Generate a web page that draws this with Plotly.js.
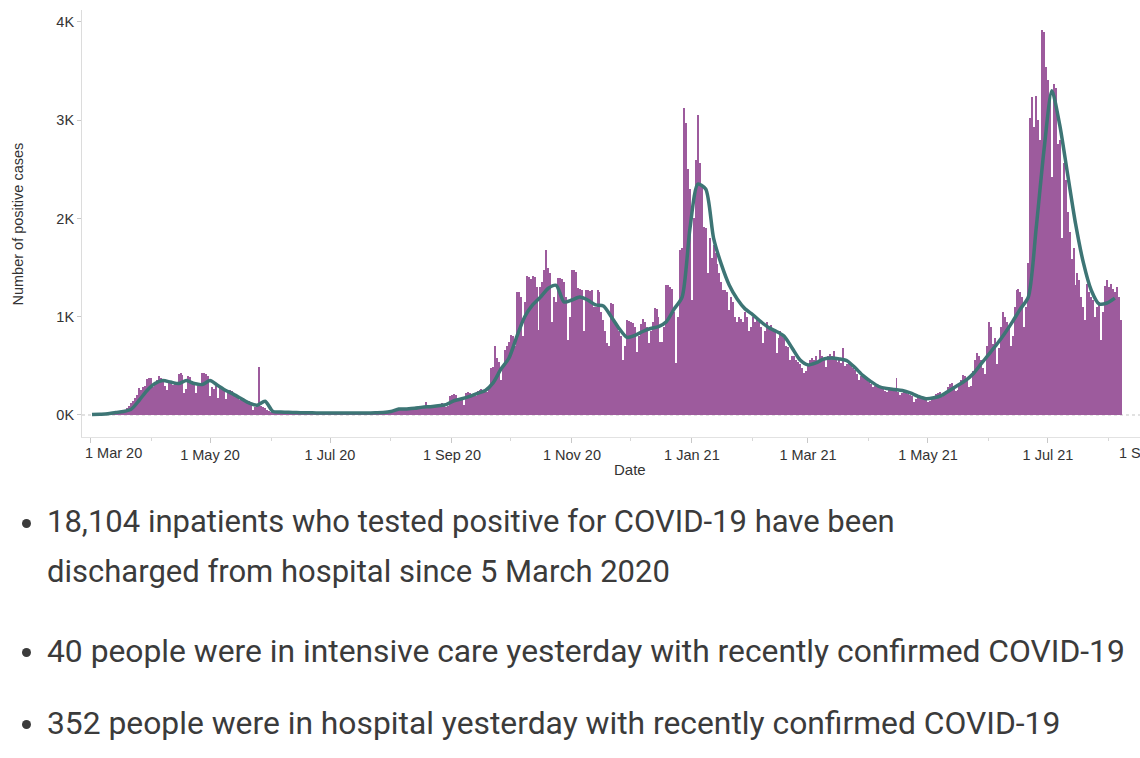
<!DOCTYPE html>
<html>
<head>
<meta charset="utf-8">
<script src="https://cdn.plot.ly/plotly-3.0.1.min.js"></script>
<style>
  html, body { margin: 0; padding: 0; background: #ffffff; }
  body { width: 1140px; height: 758px; position: relative; overflow: hidden; }
  #chart { position: absolute; left: 0; top: 0; width: 1140px; height: 485px; }
  .item { position: absolute; left: 47px; font-family: Roboto, "Noto Sans", sans-serif; font-size: 31.8px; line-height: 50px; color: #3b3b3b; white-space: nowrap; }
  .dot { position: absolute; left: 22px; width: 9px; height: 9px; border-radius: 50%; background: #3b3b3b; }
</style>
</head>
<body>
<div id="chart"></div>
<span class="dot" style="top:519px"></span>
<div class="item" style="top:497px; font-size:31px">18,104 inpatients who tested positive for COVID-19 have been<br>discharged from hospital since 5 March 2020</div>
<span class="dot" style="top:648px"></span>
<div class="item" style="top:626px">40 people were in intensive care yesterday with recently confirmed COVID-19</div>
<span class="dot" style="top:720px"></span>
<div class="item" style="top:698px">352 people were in hospital yesterday with recently confirmed COVID-19</div>
<script>
// ---- data ----
const startDate = '2020-03-02';           // first daily bar (Monday)
const dailyCases = [
  0,1,2,3,4,5,6,
  8,10,12,14,18,20,22,
  30,35,40,55,70,90,120,
  140,170,200,270,250,280,300,
  370,375,380,290,340,360,400,
  380,370,300,250,340,330,310,
  320,340,420,430,410,220,260,
  400,390,350,330,220,300,320,
  430,430,420,400,190,280,260,
  300,170,290,280,260,160,230,
  250,240,210,200,190,150,170,
  160,140,130,140,120,50,80,
  110,490,90,80,70,50,40,
  35,30,28,28,26,24,25,
  26,25,24,25,24,22,23,
  24,23,22,23,22,20,21,
  22,21,20,21,20,18,20,
  20,19,19,20,18,17,18,
  18,19,18,19,17,16,18,
  19,20,19,20,18,17,18,
  20,22,21,23,20,18,20,
  24,25,27,30,35,45,50,
  55,60,70,65,60,55,50,
  60,70,65,80,75,60,70,
  80,90,135,85,80,70,75,
  90,100,110,120,100,85,90,
  190,200,210,200,170,165,160,
  100,220,230,220,210,200,190,
  240,250,260,255,250,230,300,
  480,490,700,580,540,355,480,
  660,700,745,815,800,700,1250,
  1255,1200,800,1150,1410,1400,1380,
  1410,1400,1300,865,1300,1350,1480,
  1680,1500,1450,950,1200,1150,1390,
  1390,1380,1350,1200,760,1000,1475,
  1475,1460,1290,1280,1270,850,1270,
  1270,1260,1270,1100,1100,1270,1250,
  1050,970,850,730,700,1135,1130,
  930,900,850,800,560,700,970,
  960,950,940,900,645,800,930,
  980,950,900,730,850,950,1085,
  1080,1000,745,745,900,1320,1320,
  1300,1280,1050,525,1000,1680,1700,
  3120,2970,2500,2300,1170,2000,2600,
  3050,2565,2340,1915,1900,1445,1800,
  1600,1730,1650,1540,1450,1350,1270,
  1270,1250,1065,1200,1150,1000,950,
  1000,980,950,1050,1000,850,900,
  1000,950,980,950,900,735,850,
  950,900,920,880,850,630,780,
  850,820,780,700,690,560,600,
  600,560,540,520,480,425,450,
  520,560,580,560,600,540,660,
  600,580,490,600,620,600,650,
  560,540,560,530,680,500,520,
  540,520,480,460,420,360,400,
  400,380,360,340,320,280,300,
  300,290,280,260,240,230,250,
  260,250,240,375,230,200,220,
  230,220,210,200,190,130,160,
  190,180,170,160,150,130,140,
  160,190,210,220,230,180,200,
  240,280,320,330,300,240,250,
  330,360,410,400,380,280,300,
  450,560,630,600,560,480,420,
  700,950,900,720,780,520,680,
  900,1050,1000,950,900,700,800,
  1100,1270,1280,1250,1200,900,1100,
  1545,3020,3240,2935,3250,3000,2800,
  3920,3900,3540,3410,3200,2425,3370,
  3330,2760,2800,1800,2560,2390,2070,
  1860,1590,1700,1320,1450,1370,1200,
  1100,970,1330,1250,1200,1170,1000,
  1100,1150,760,1050,1310,1370,1300,
  1330,1280,1250,1300,1200,970
];
const provisionalDates = ['2021-08-08'];   // incomplete last day (grey)
const provisionalCases = [70];

const lineStart = '2020-03-02';            // average line, one point every 4 days
const lineStepDays = 4;
const avgCases = [
  5,8,12,25,35,60,150,250,320,350,
  335,320,350,320,310,350,300,250,210,165,
  120,100,140,35,30,27,25,23,22,21,
  20,19,19,19,20,20,22,25,35,60,
  62,68,80,85,95,105,145,165,190,220,
  250,330,470,580,800,1000,1120,1200,1290,1320,
  1150,1170,1200,1170,1120,1110,1000,880,790,810,
  850,880,900,950,1080,1200,1900,2350,2300,1800,
  1530,1320,1180,1080,1020,950,890,850,800,680,
  560,510,530,570,580,570,550,480,400,340,
  290,270,260,250,225,190,165,175,200,250,
  300,350,420,520,620,720,830,950,1080,1200,
  1900,2700,3300,2950,2450,1950,1550,1270,1130,1140,
  1190
];

const yTickVals = [0, 1000, 2000, 3000, 4000];
const yTickText = ['0K', '1K', '2K', '3K', '4K'];
const xTickVals = ['2020-03-01', '2020-05-01', '2020-07-01', '2020-09-01', '2020-11-01',
                   '2021-01-01', '2021-03-01', '2021-05-01', '2021-07-01'];
const xTickText = ['', '1 May 20', '1 Jul 20', '1 Sep 20', '1 Nov 20',
                   '1 Jan 21', '1 Mar 21', '1 May 21', '1 Jul 21'];
const firstTickLabel = '1 Mar 20';   // drawn shifted right, as in the reference
const lastTickLabel = '1 S';         // clipped label at the right edge

// ---- build ----
function addDays(iso, n) {
  const d = new Date(iso + 'T00:00:00Z');
  d.setUTCDate(d.getUTCDate() + n);
  return d.toISOString().slice(0, 10);
}
const barDates = dailyCases.map((_, i) => addDays(startDate, i));
const lineDates = avgCases.map((_, i) => addDays(lineStart, i * lineStepDays));

const tickFont = { family: '"Liberation Sans", Arial, sans-serif', size: 14.5, color: '#333333' };

const traces = [
  { type: 'bar', x: barDates, y: dailyCases, marker: { color: '#9d5b9d', line: { width: 0 } }, hoverinfo: 'skip' },
  { type: 'bar', x: provisionalDates, y: provisionalCases, marker: { color: '#b4b0b4', line: { width: 0 } }, hoverinfo: 'skip' },
  { type: 'scatter', mode: 'lines', x: lineDates, y: avgCases,
    line: { color: '#3d7575', width: 3.5, shape: 'spline', smoothing: 0.7 }, hoverinfo: 'skip' }
];

const layout = {
  width: 1140, height: 485,
  margin: { l: 82, r: 0, t: 10, b: 48 },
  paper_bgcolor: '#ffffff', plot_bgcolor: '#ffffff',
  showlegend: false, bargap: 0, barmode: 'overlay',
  font: tickFont,
  xaxis: {
    type: 'date',
    range: ['2020-02-25 22:00', '2021-08-16 19:00'],
    tickmode: 'array', tickvals: xTickVals, ticktext: xTickText,
    ticks: 'outside', ticklen: 5, tickcolor: '#c8c8c8', tickwidth: 1,
    minor: { dtick: 'M1', tick0: '2020-03-01', ticks: 'outside', ticklen: 3, tickcolor: '#d8d8d8' },
    showgrid: false, zeroline: false,
    showline: true, linecolor: '#e2e2e2', linewidth: 1,
    tickfont: tickFont, fixedrange: true
  },
  yaxis: {
    range: [-224, 4122],
    tickmode: 'array', tickvals: yTickVals, ticktext: yTickText,
    ticks: 'outside', ticklen: 4, tickcolor: '#c8c8c8',
    showgrid: false, zeroline: false,
    showline: true, linecolor: '#dcdcdc', linewidth: 1,
    tickfont: tickFont, fixedrange: true
  },
  shapes: [
    { type: 'line', xref: 'paper', x0: 0, x1: 1, yref: 'y', y0: 0, y1: 0,
      line: { color: '#c4c4c4', width: 1, dash: 'dot' }, layer: 'below' }
  ],
  annotations: [
    { text: 'Date', xref: 'paper', yref: 'paper', x: 0.518, y: -0.075, xanchor: 'center', yanchor: 'middle',
      showarrow: false, font: { family: '"Liberation Sans", Arial, sans-serif', size: 15, color: '#333333' } },
    { text: 'Number of positive cases', xref: 'paper', yref: 'paper', x: -0.0605, y: 0.5, textangle: -90,
      xanchor: 'center', yanchor: 'middle', showarrow: false,
      font: { family: '"Liberation Sans", Arial, sans-serif', size: 14.5, color: '#333333' } },
    { text: firstTickLabel, xref: 'paper', yref: 'paper', x: 0.0005, y: -0.037, xanchor: 'left', yanchor: 'middle',
      showarrow: false, font: tickFont },
    { text: lastTickLabel, xref: 'x', yref: 'paper', x: '2021-08-05', y: -0.037, xanchor: 'left', yanchor: 'middle',
      showarrow: false, font: tickFont }
  ]
};

Plotly.newPlot('chart', traces, layout, { displayModeBar: false, staticPlot: true });
</script>
</body>
</html>
